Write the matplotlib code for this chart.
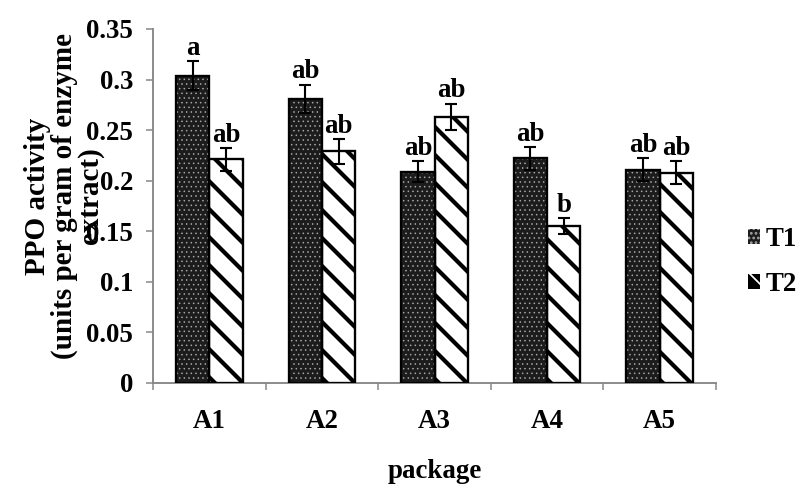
import matplotlib
matplotlib.use("Agg")
import matplotlib.pyplot as plt
import numpy as np
from matplotlib.patches import Patch

categories = ["A1", "A2", "A3", "A4", "A5"]
t1_values = [0.304, 0.281, 0.209, 0.222, 0.211]
t1_errors = [0.014, 0.014, 0.010, 0.011, 0.011]
t2_values = [0.221, 0.229, 0.263, 0.155, 0.208]
t2_errors = [0.011, 0.012, 0.013, 0.008, 0.011]
t1_letters = ["a", "ab", "ab", "ab", "ab"]
t2_letters = ["ab", "ab", "ab", "b", "ab"]
series_names = ["T1", "T2"]
yticks = [0, 0.05, 0.1, 0.15, 0.2, 0.25, 0.3, 0.35]
ytick_labels = ["0", "0.05", "0.1", "0.15", "0.2", "0.25", "0.3", "0.35"]

DPI = 84
W, H = 801, 490
plt.rcParams['font.family'] = ['Liberation Serif', 'DejaVu Serif']
plt.rcParams['font.weight'] = 'bold'
FS = 23

fig = plt.figure(figsize=(W / DPI, H / DPI), dpi=DPI)
ax_l, ax_r, ax_t, ax_b = 153, 716, 29, 383
ax = fig.add_axes([ax_l / W, 1 - ax_b / H, (ax_r - ax_l) / W, (ax_b - ax_t) / H])

x = np.arange(len(categories))
bw = 0.295

def set_hlw(artists, lw):
    for b in artists:
        try:
            b.set_hatch_linewidth(lw)
        except AttributeError:
            pass

# T1 bars: dark with light dots
plt.rcParams['hatch.linewidth'] = 0.6
b1 = ax.bar(x - bw / 2, t1_values, bw, color='#1c1c1c', edgecolor='#a8a8a8', hatch='...', linewidth=0, zorder=2)
set_hlw(b1, 0.6)
# T2 bars: white with black stripes
plt.rcParams['hatch.linewidth'] = 3.6
b2 = ax.bar(x + bw / 2, t2_values, bw, color='white', edgecolor='black', hatch='\\', linewidth=0, zorder=2)
set_hlw(b2, 3.6)
# outlines
ax.bar(x - bw / 2, t1_values, bw, fill=False, edgecolor='black', linewidth=2.0, zorder=3)
ax.bar(x + bw / 2, t2_values, bw, fill=False, edgecolor='black', linewidth=2.0, zorder=3)

ax.errorbar(x - bw / 2, t1_values, yerr=t1_errors, fmt='none', ecolor='black', elinewidth=1.8, capsize=5, capthick=1.8, zorder=4)
ax.errorbar(x + bw / 2, t2_values, yerr=t2_errors, fmt='none', ecolor='black', elinewidth=1.8, capsize=5, capthick=1.8, zorder=4)

for xi, v, e, s in zip(x - bw / 2, t1_values, t1_errors, t1_letters):
    ax.text(xi, v + e + 0.0005, s, ha='center', va='bottom', fontsize=FS, fontweight='bold')
for xi, v, e, s in zip(x + bw / 2, t2_values, t2_errors, t2_letters):
    ax.text(xi, v + e + 0.0005, s, ha='center', va='bottom', fontsize=FS, fontweight='bold')

ax.set_xlim(-0.5, len(categories) - 0.5)
ax.set_ylim(0, 0.35)
ax.set_yticks(yticks)
ax.set_yticklabels(ytick_labels, fontsize=FS, fontweight='bold')
ax.set_xticks(np.arange(len(categories) + 1) - 0.5)
ax.set_xticklabels([])
ax.set_xticks(x, minor=True)
ax.set_xticklabels(categories, minor=True, fontsize=FS, fontweight='bold')
ax.tick_params(axis='x', which='minor', length=0, pad=22)
ax.tick_params(axis='x', which='major', length=6, width=1.3, color='#868686', direction='out')
ax.tick_params(axis='y', length=6, width=1.3, color='#868686', direction='out', pad=11)

for s in ['top', 'right']:
    ax.spines[s].set_visible(False)
for s in ['left', 'bottom']:
    ax.spines[s].set_color('#868686')
    ax.spines[s].set_linewidth(1.6)

fig.text(64 / W, 1 - 196 / H, "PPO activity\n(units per gram of enzyme\nextract)", rotation=90,
         ha='center', va='center', multialignment='center', fontsize=25, fontweight='bold', linespacing=0.98)
fig.text((ax_l + ax_r) / 2 / W, 1 - 472 / H, "package", ha='center', va='center', fontsize=FS, fontweight='bold')

h1 = Patch(facecolor='#1c1c1c', edgecolor='#a8a8a8', hatch='...', linewidth=0)
h2 = Patch(facecolor='black', edgecolor='white', hatch='\\', linewidth=0)
leg = fig.legend([h1, h2], series_names, loc='center left', bbox_to_anchor=(748 / W, 1 - 262 / H),
                 frameon=False, fontsize=FS, handlelength=0.45, handleheight=0.45, handletextpad=0.2,
                 labelspacing=0.75, borderpad=0, borderaxespad=0)
for t in leg.get_texts():
    t.set_fontweight('bold')
set_hlw(leg.get_patches(), 1.5)

fig.savefig("out.png", dpi=DPI)
